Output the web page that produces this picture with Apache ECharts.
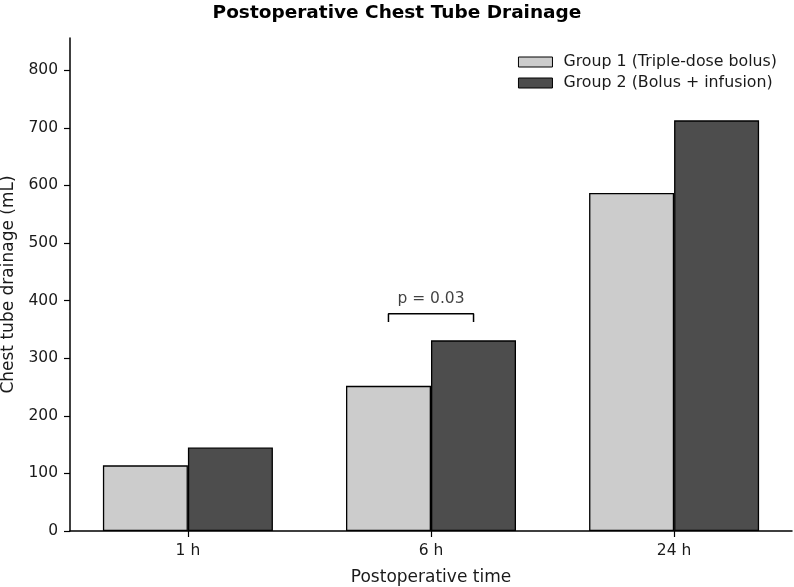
<!DOCTYPE html>
<html>
<head>
<meta charset="utf-8">
<script src="https://cdn.jsdelivr.net/npm/echarts@6/dist/echarts.min.js"></script>
<style>
  html, body { margin: 0; padding: 0; background: #fff; }
  #chart { width: 794px; height: 587px; }
</style>
</head>
<body>
<div id="chart"></div>
<script>
// data
const categories = ['1 h', '6 h', '24 h']
const group1Name = 'Group 1 (Triple-dose bolus)'
const group2Name = 'Group 2 (Bolus + infusion)'
const group1 = [114, 252, 587]
const group2 = [145, 331, 713]
const yTicks = [0, 100, 200, 300, 400, 500, 600, 700, 800]

// significance bracket between the 6 h bars
const bracketX = [0.825, 1.175]
const bracketY = [363, 377]
const bracketText = 'p = 0.03'
const bracketTextY = 403

const font = 'DejaVu Sans'
const chart = echarts.init(document.getElementById('chart'))

const xIdx = categories.map((c, i) => i)

chart.setOption({
  animation: false,
  textStyle: { fontFamily: font },
  title: {
    text: 'Postoperative Chest Tube Drainage',
    left: 'center',
    top: 0,
    padding: [4, 5],
    textStyle: { fontFamily: font, fontSize: 18.5, fontWeight: 'bold', color: '#000' }
  },
  legend: {
    orient: 'vertical',
    right: 17,
    top: 54,
    padding: 0,
    icon: 'rect',
    itemWidth: 34,
    itemHeight: 10,
    itemGap: 5,
    itemStyle: { borderColor: '#000', borderWidth: 1 },
    textStyle: { fontFamily: font, fontSize: 15.8, color: '#1a1a1a', padding: [0, 0, 0, 6] },
    data: [group1Name, group2Name]
  },
  grid: { left: 70, right: 2, top: 38, bottom: 56, outerBoundsMode: 'none', containLabel: false },
  xAxis: {
    type: 'value',
    min: -0.485,
    max: 2.485,
    name: 'Postoperative time',
    nameLocation: 'middle',
    nameGap: 38,
    nameTextStyle: { fontFamily: font, fontSize: 17, color: '#1a1a1a' },
    splitLine: { show: false },
    axisLine: { lineStyle: { color: '#000', width: 1.5 } },
    axisTick: { customValues: xIdx, length: 6, lineStyle: { color: '#000', width: 1.2 } },
    axisLabel: {
      customValues: xIdx,
      formatter: v => categories[Math.round(v)],
      fontFamily: font, fontSize: 15.5, color: '#1a1a1a', margin: 12
    }
  },
  yAxis: {
    type: 'value',
    min: 0,
    max: 856,
    interval: 100,
    name: 'Chest tube drainage (mL)',
    nameLocation: 'middle',
    nameGap: 46,
    nameTextStyle: { fontFamily: font, fontSize: 17, color: '#1a1a1a' },
    splitLine: { show: false },
    axisLine: { show: true, onZero: false, lineStyle: { color: '#000', width: 1.5 } },
    axisTick: { show: true, customValues: yTicks, length: 6, lineStyle: { color: '#000', width: 1.2 } },
    axisLabel: {
      customValues: yTicks,
      fontFamily: font, fontSize: 15.5, color: '#1a1a1a', margin: 12
    }
  },
  series: [
    {
      name: group1Name,
      type: 'bar',
      barWidth: 85,
      barGap: '0%',
      itemStyle: { color: '#cccccc', borderColor: '#000', borderWidth: 1.3 },
      data: group1.map((v, i) => [i, v])
    },
    {
      name: group2Name,
      type: 'bar',
      barWidth: 85,
      barGap: '0%',
      itemStyle: { color: '#4d4d4d', borderColor: '#000', borderWidth: 1.3 },
      data: group2.map((v, i) => [i, v])
    },
    {
      name: 'bracket',
      type: 'line',
      symbol: 'none',
      silent: true,
      lineStyle: { color: '#000', width: 1.5 },
      data: [
        [bracketX[0], bracketY[0]],
        [bracketX[0], bracketY[1]],
        [bracketX[1], bracketY[1]],
        [bracketX[1], bracketY[0]]
      ]
    },
    {
      name: 'ptext',
      type: 'scatter',
      symbolSize: 0,
      silent: true,
      label: {
        show: true,
        position: 'inside',
        formatter: bracketText,
        fontFamily: font,
        fontSize: 15.5,
        color: '#111'
      },
      data: [[(bracketX[0] + bracketX[1]) / 2, bracketTextY]]
    }
  ]
})
</script>
</body>
</html>
